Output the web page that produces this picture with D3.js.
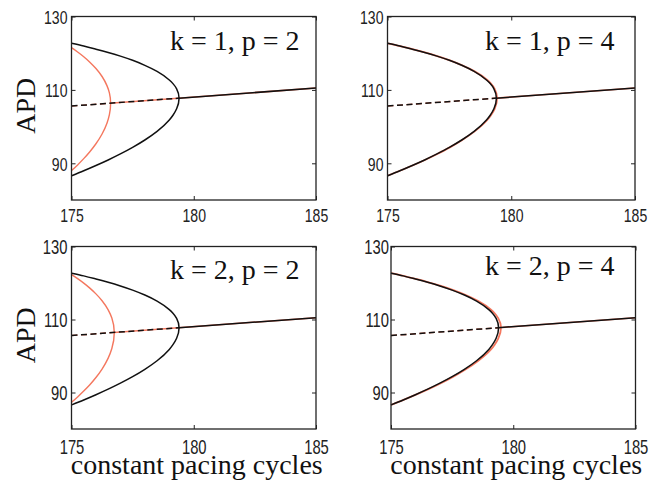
<!DOCTYPE html>
<html>
<head>
<meta charset="utf-8">
<script src="https://cdn.jsdelivr.net/npm/d3@7"></script>
<style>
  html, body { margin: 0; padding: 0; background: #fff; }
  svg { display: block; }
</style>
</head>
<body>
<svg id="chart" width="665" height="481"></svg>
<script>
// Axis ranges and ticks
const xDomain = [175, 185];
const yDomain = [80, 130];
const xTicks = [175, 180, 185];
const yTicks = [90, 110, 130];

// Panel annotations
const panelLabels = ["k = 1, p = 2", "k = 1, p = 4", "k = 2, p = 2", "k = 2, p = 4"];

// Steady-state APD line (period-1 branch)
const steadyX = [175, 185];
const steadyY = [105.6, 110.5];

// Period-doubling bifurcation points (pacing cycle length)
const blackVertexX = 179.4;
const redVertexX = [176.6, 179.45, 176.75, 179.55];

// Period-2 alternans branch, full model (black)
const branchX     = [175, 175.5, 176, 176.5, 177, 177.5, 178, 178.5, 179, 179.15, 179.3, 179.4];
const branchUpper = [122.7, 121.95, 121.1, 120.2, 119.2, 118.06, 116.7, 115.05, 112.7, 111.71, 110.3, 107.75];
const branchLower = [86.6, 87.96, 89.4, 90.91, 92.55, 94.34, 96.35, 98.7, 101.8, 103.1, 104.85, 107.75];

// Period-2 branch, reduced model k = 1, p = 2 (red)
const redX_k1p2     = [175, 175.25, 175.5, 175.75, 176, 176.25, 176.45, 176.55, 176.6];
const redUpper_k1p2 = [121.5, 120.33, 119.04, 117.56, 115.83, 113.65, 111.17, 109.18, 106.38];
const redLower_k1p2 = [88.0, 89.57, 91.27, 93.15, 95.32, 97.98, 100.93, 103.25, 106.38];

// Reduced model k = 1, p = 4
const redX_k1p4     = [175, 175.5, 176.01, 176.51, 177.01, 177.52, 178.02, 178.52, 179.03, 179.18, 179.33, 179.43];
const redUpper_k1p4 = [122.7, 121.95, 121.1, 120.2, 119.2, 118.06, 116.7, 115.05, 112.7, 111.71, 110.3, 107.77];
const redLower_k1p4 = [86.6, 87.96, 89.4, 90.91, 92.55, 94.34, 96.35, 98.7, 101.8, 103.1, 104.85, 107.77];

// Reduced model k = 2, p = 2
const redX_k2p2     = [175, 175.25, 175.5, 175.75, 176, 176.25, 176.5, 176.65, 176.75];
const redUpper_k2p2 = [122.3, 121.18, 119.96, 118.59, 117.02, 115.13, 112.65, 110.41, 106.47];
const redLower_k2p2 = [87.3, 88.78, 90.39, 92.14, 94.11, 96.43, 99.43, 102.05, 106.47];

// Reduced model k = 2, p = 4
const redX_k2p4     = [175, 175.51, 176.02, 176.53, 177.04, 177.55, 178.06, 178.57, 179.09, 179.24, 179.39, 179.5];
const redUpper_k2p4 = [122.7, 121.95, 121.1, 120.2, 119.2, 118.06, 116.7, 115.05, 112.7, 111.71, 110.3, 107.8];
const redLower_k2p4 = [86.6, 87.96, 89.4, 90.91, 92.55, 94.34, 96.35, 98.7, 101.8, 103.1, 104.85, 107.8];

const redSets = [
  [redX_k1p2, redUpper_k1p2, redLower_k1p2],
  [redX_k1p4, redUpper_k1p4, redLower_k1p4],
  [redX_k2p2, redUpper_k2p2, redLower_k2p2],
  [redX_k2p4, redUpper_k2p4, redLower_k2p4]
];

// Panel frames (pixels)
const frames = [
  { l: 71.5,  r: 316,   t: 16.5,  b: 200, tickFont: 19, tickBase: 22, yPad: 4, labelX: 170, labelY: 50,  showY: true,  showX: false },
  { l: 387.5, r: 635,   t: 16.5,  b: 200, tickFont: 19, tickBase: 22, yPad: 4, labelX: 485, labelY: 50,  showY: false, showX: false },
  { l: 71.5,  r: 316,   t: 246.5, b: 429, tickFont: 20, tickBase: 25, yPad: 4, labelX: 170, labelY: 279, showY: true,  showX: true },
  { l: 391,   r: 635.5, t: 246.5, b: 429, tickFont: 20, tickBase: 25, yPad: 2, labelX: 485, labelY: 275, showY: false, showX: true }
];

const RED = "#f4775e";
const BLACK = "#111";
const svg = d3.select("#chart");

// Ordered path around the branch: upper arm to the bifurcation, then lower arm back out
function branchPoints(xs, up, lo) {
  const pts = xs.map((v, i) => [v, up[i]]);
  for (let i = xs.length - 2; i >= 0; i--) pts.push([xs[i], lo[i]]);
  return pts;
}

const steadyPts = steadyX.map((v, i) => [v, steadyY[i]]);

frames.forEach((f, pi) => {
  const g = svg.append("g");
  const x = d3.scaleLinear().domain(xDomain).range([f.l, f.r]);
  const y = d3.scaleLinear().domain(yDomain).range([f.b, f.t]);

  const branchLine = d3.line().x(d => x(d[0])).y(d => y(d[1])).curve(d3.curveMonotoneY);
  const straight = d3.line().x(d => x(d[0])).y(d => y(d[1]));

  // clip regions splitting the steady line at a bifurcation point
  const defs = g.append("defs");
  function clipSplit(id, vx) {
    defs.append("clipPath").attr("id", id + "L")
      .append("rect").attr("x", f.l).attr("y", f.t).attr("width", x(vx) - f.l).attr("height", f.b - f.t);
    defs.append("clipPath").attr("id", id + "R")
      .append("rect").attr("x", x(vx)).attr("y", f.t).attr("width", f.r - x(vx)).attr("height", f.b - f.t);
  }
  clipSplit("red" + pi, redVertexX[pi]);
  clipSplit("blk" + pi, blackVertexX);

  // reduced model (red), drawn beneath
  const [rx, ru, rl] = redSets[pi];
  g.append("path").attr("d", straight(steadyPts)).attr("clip-path", `url(#red${pi}L)`)
    .attr("fill", "none").attr("stroke", RED).attr("stroke-width", 1.4).attr("stroke-dasharray", "6,3.5");
  g.append("path").attr("d", straight(steadyPts)).attr("clip-path", `url(#red${pi}R)`)
    .attr("fill", "none").attr("stroke", RED).attr("stroke-width", 1.6);
  g.append("path").attr("d", branchLine(branchPoints(rx, ru, rl)))
    .attr("fill", "none").attr("stroke", RED).attr("stroke-width", pi % 2 ? 1.8 : 1.4);

  // full model (black)
  g.append("path").attr("d", straight(steadyPts)).attr("clip-path", `url(#blk${pi}L)`)
    .attr("fill", "none").attr("stroke", BLACK).attr("stroke-width", 1.5).attr("stroke-dasharray", "6,3.5");
  g.append("path").attr("d", straight(steadyPts)).attr("clip-path", `url(#blk${pi}R)`)
    .attr("fill", "none").attr("stroke", BLACK).attr("stroke-width", 1.5);
  g.append("path").attr("d", branchLine(branchPoints(branchX, branchUpper, branchLower)))
    .attr("fill", "none").attr("stroke", BLACK).attr("stroke-width", 1.5);

  // inward ticks on all four sides
  const tk = 4;
  const axes = [
    [d3.axisBottom(x).tickValues(xTicks), `translate(0,${f.b})`, "x"],
    [d3.axisTop(x).tickValues(xTicks), `translate(0,${f.t})`, null],
    [d3.axisLeft(y).tickValues(yTicks), `translate(${f.l},0)`, "y"],
    [d3.axisRight(y).tickValues(yTicks), `translate(${f.r},0)`, null]
  ];
  axes.forEach(([ax, tr, kind]) => {
    const a = g.append("g").attr("transform", tr)
      .call(ax.tickSizeInner(-tk).tickSizeOuter(0).tickFormat(d3.format("d")));
    a.select(".domain").remove();
    a.selectAll("line").attr("stroke", "#222").attr("stroke-width", 1);
    const txt = a.selectAll("text")
      .attr("font-family", "'Liberation Sans', Arial, sans-serif")
      .attr("font-size", f.tickFont).attr("fill", "#222");
    if (kind === "x") {
      txt.attr("y", f.tickBase).attr("dy", 0).attr("transform", "scale(0.74,1)");
    } else if (kind === "y") {
      txt.attr("x", -f.yPad / 0.74).attr("dy", "0.36em")
        .attr("transform", "scale(0.74,1)").attr("text-anchor", "end");
    } else {
      txt.remove();
    }
  });

  // frame
  g.append("rect").attr("x", f.l).attr("y", f.t).attr("width", f.r - f.l).attr("height", f.b - f.t)
    .attr("fill", "none").attr("stroke", "#222").attr("stroke-width", 1.3);

  // annotation
  g.append("text").attr("x", f.labelX).attr("y", f.labelY)
    .attr("font-family", "'Liberation Serif', 'Times New Roman', serif").attr("font-size", 28)
    .attr("fill", "#111").text(panelLabels[pi]);

  if (f.showY) {
    g.append("text").attr("transform", `translate(35,${(f.t + f.b) / 2 - 2.5}) rotate(-90)`)
      .attr("text-anchor", "middle")
      .attr("font-family", "'Liberation Serif', 'Times New Roman', serif").attr("font-size", 28)
      .attr("fill", "#111").text("APD");
  }
  if (f.showX) {
    g.append("text").attr("x", (f.l + f.r) / 2 + 3).attr("y", 474)
      .attr("text-anchor", "middle")
      .attr("font-family", "'Liberation Serif', 'Times New Roman', serif").attr("font-size", 28)
      .attr("fill", "#111").text("constant pacing cycles");
  }
});
</script>
</body>
</html>
